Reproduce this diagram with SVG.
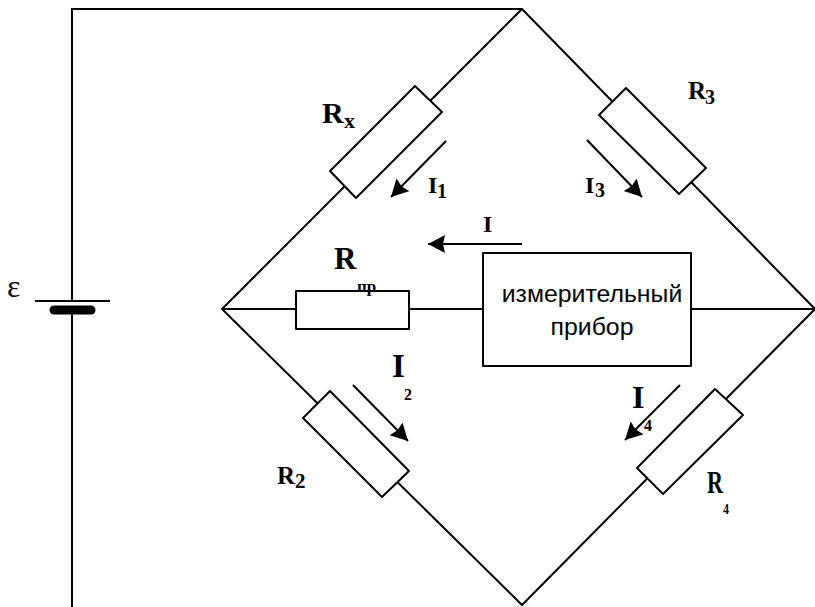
<svg xmlns="http://www.w3.org/2000/svg" width="815" height="607" viewBox="0 0 815 607">
<style>
.w{fill:none;stroke:#000;stroke-width:2}
.b{fill:#fff;stroke:#000;stroke-width:2;stroke-linejoin:round}
.a{fill:none;stroke:#000;stroke-width:2;marker-end:url(#ah)}
text{font-family:"Liberation Serif",serif;font-weight:bold;fill:#000}
.s{font-family:"Liberation Sans",sans-serif;font-weight:normal;font-size:24.8px;text-anchor:middle}
</style>
<defs>
<marker id="ah" markerUnits="userSpaceOnUse" markerWidth="20" markerHeight="20" refX="17" refY="9" orient="auto"><path d="M0 0L17 9L0 18L2 9Z" fill="#000"/></marker>
</defs>
<g id="connectors">
<path class="w" d="M72 300V9H522L815 309L522 605L222 309L522 9"/>
<path class="w" d="M72 311V607"/>
<path class="w" d="M222 309H483M691 309H815"/>
<path class="a" d="M446 141L391 197"/>
<path class="a" d="M522 244H428"/>
<path class="a" d="M587 140L642 197"/>
<path class="a" d="M353 385L408 441"/>
<path class="a" d="M680 385L625 440"/>
</g>
<g id="battery">
<path class="w" d="M35 301H110"/>
<path d="M54 310H91" fill="none" stroke="#000" stroke-width="9" stroke-linecap="round"/>
<text x="7" y="297" font-size="32" style="font-weight:normal">ε</text>
</g>
<g id="rx"><polygon class="b" points="415,86 442,112 356,198 330,171"/>
<text x="322" y="123" font-size="30">R</text><text x="344" y="128" font-size="22">x</text></g>
<g id="r3"><polygon class="b" points="626,88 706,168 679,194 599,115"/>
<text x="688" y="99" font-size="25">R</text><text x="705" y="104" font-size="20">3</text></g>
<g id="r2"><polygon class="b" points="330,391 409,471 382,497 303,418"/>
<text x="277" y="484" font-size="25">R</text><text x="295" y="488" font-size="21">2</text></g>
<g id="r4"><polygon class="b" points="715,389 743,415 663,494 637,468"/>
<text x="707" y="493" font-size="32" textLength="16" lengthAdjust="spacingAndGlyphs">R</text>
<text x="723" y="514" font-size="15" textLength="6" lengthAdjust="spacingAndGlyphs">4</text></g>
<g id="rpr"><rect class="b" x="296" y="291" width="113" height="38"/>
<text x="334" y="269" font-size="31">R</text>
<text x="357" y="292" font-size="17">пр</text></g>
<g id="meter"><rect class="b" x="483" y="253" width="208" height="113"/>
<text class="s" x="592" y="302">измерительный</text>
<text class="s" x="592" y="335">прибор</text></g>
<g id="labels">
<text x="428" y="193" font-size="24">I</text><text x="437" y="198" font-size="20">1</text>
<text x="483" y="232" font-size="24">I</text>
<text x="585" y="193" font-size="24">I</text><text x="595" y="197" font-size="20">3</text>
<text x="392" y="377" font-size="33">I</text>
<text x="404" y="400" font-size="16">2</text>
<text x="632" y="408" font-size="32">I</text>
<text x="644" y="431" font-size="16">4</text>
</g>
</svg>
